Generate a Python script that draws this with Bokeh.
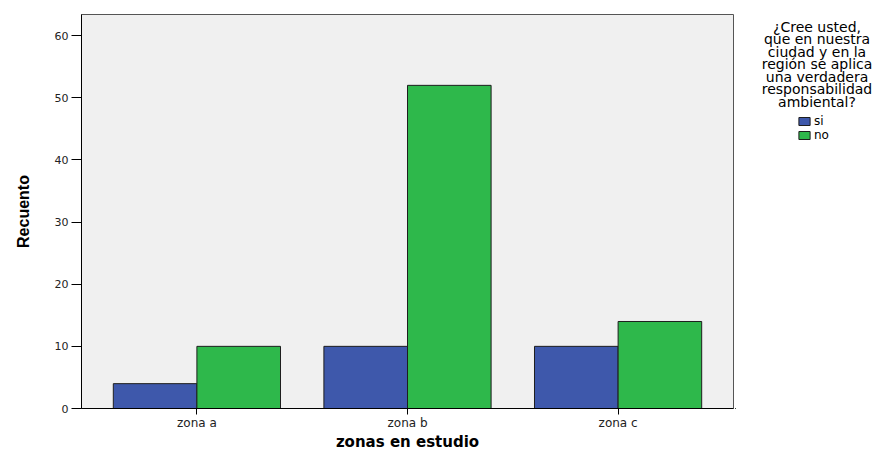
from bokeh.plotting import figure
from bokeh.layouts import row
from bokeh.models import (FactorRange, Range1d, FixedTicker, Legend, LegendItem,
                          Label, ColumnDataSource)
from bokeh.transform import dodge
from bokeh.embed import file_html
from bokeh.resources import INLINE

# ---- data ----
zonas = ["zona a", "zona b", "zona c"]
si = [4, 10, 10]
no = [10, 52, 14]
y_ticks = [0, 10, 20, 30, 40, 50, 60]
series_names = ["si", "no"]
legend_title_lines = ["¿Cree usted,", "que en nuestra", "ciudad y en la",
                      "región se aplica", "una verdadera", "responsabilidad",
                      "ambiental?"]
x_label = "zonas en estudio"
y_label = "Recuento"

BLUE = "#3e58ab"
GREEN = "#2eb84b"
EDGE = "#1e1e1e"

src = ColumnDataSource(dict(zona=zonas, si=si, no=no))

W_MAIN, W_LEG, H = 735, 158, 453

p = figure(width=W_MAIN, height=H,
           x_range=FactorRange(factors=zonas, range_padding=0.048,
                               range_padding_units="absolute"),
           y_range=Range1d(0, 63.4),
           output_backend="svg", toolbar_location=None,
           min_border_left=81, min_border_right=2,
           min_border_top=14, min_border_bottom=44)

bw = 0.397
p.vbar(x=dodge("zona", -bw / 2, range=p.x_range), top="si", width=bw,
       source=src, fill_color=BLUE, line_color=EDGE, line_width=1)
p.vbar(x=dodge("zona", bw / 2, range=p.x_range), top="no", width=bw,
       source=src, fill_color=GREEN, line_color=EDGE, line_width=1)

p.background_fill_color = "#f0f0f0"
p.border_fill_color = "white"
p.outline_line_color = "#555555"
p.outline_line_width = 1
p.xgrid.visible = False
p.ygrid.visible = False

# y axis
ya = p.yaxis[0]
ya.ticker = FixedTicker(ticks=y_ticks)
ya.major_tick_out = 10
ya.major_tick_in = 0
ya.minor_tick_out = 0
ya.minor_tick_in = 0
ya.major_label_standoff = 3
ya.major_label_text_font = "DejaVu Sans"
ya.major_label_text_font_size = "11px"
ya.major_label_text_color = "#222222"
ya.axis_line_color = "black"
ya.major_tick_line_color = "black"
ya.axis_label = y_label
ya.axis_label_text_font = "Liberation Sans"
ya.axis_label_text_font_style = "bold"
ya.axis_label_text_font_size = "16px"
ya.axis_label_text_color = "black"
ya.axis_label_standoff = 20

# x axis
xa = p.xaxis[0]
xa.major_tick_out = 6
xa.major_tick_in = 0
xa.minor_tick_out = 0
xa.major_label_standoff = 1
xa.major_label_text_font = "DejaVu Sans"
xa.major_label_text_font_size = "12px"
xa.major_label_text_color = "#222222"
xa.axis_line_color = "black"
xa.major_tick_line_color = "black"
xa.axis_label = x_label
xa.axis_label_text_font = "DejaVu Sans"
xa.axis_label_text_font_style = "bold"
xa.axis_label_text_font_size = "15px"
xa.axis_label_text_color = "black"
xa.axis_label_standoff = 0

# ---- legend panel (separate figure to the right) ----
q = figure(width=W_LEG, height=H, x_range=Range1d(1000, 1001),
           y_range=Range1d(1000, 1001), x_axis_type=None, y_axis_type=None,
           output_backend="svg", toolbar_location=None, min_border=0,
           outline_line_color=None, background_fill_color="white",
           border_fill_color="white")
q.xgrid.visible = False
q.ygrid.visible = False
# same bars, drawn out of this panel's view; used only as legend swatches
l_si = q.vbar(x=0, top="si", width=1, source=src, fill_color=BLUE,
              line_color=EDGE, line_width=1)
l_no = q.vbar(x=0, top="no", width=1, source=src, fill_color=GREEN,
              line_color=EDGE, line_width=1)

for i, line in enumerate(legend_title_lines):
    q.add_layout(Label(x=81.5, y=382 - i * 12.5, x_units="screen", y_units="screen",
                       text=line, text_align="center", text_baseline="middle",
                       text_font="DejaVu Sans", text_font_size="14px",
                       text_color="black"))

legend = Legend(items=[LegendItem(label=series_names[0], renderers=[l_si]),
                       LegendItem(label=series_names[1], renderers=[l_no])],
                location=(62, 266),
                glyph_width=14, glyph_height=10, label_height=10,
                label_standoff=3, spacing=0, padding=0, margin=0,
                border_line_alpha=0, background_fill_alpha=0,
                label_text_font="DejaVu Sans", label_text_font_size="12px",
                label_text_color="black")
q.add_layout(legend, "center")

layout = row(p, q, spacing=0)
open("out.html", "w").write(file_html(layout, INLINE))
